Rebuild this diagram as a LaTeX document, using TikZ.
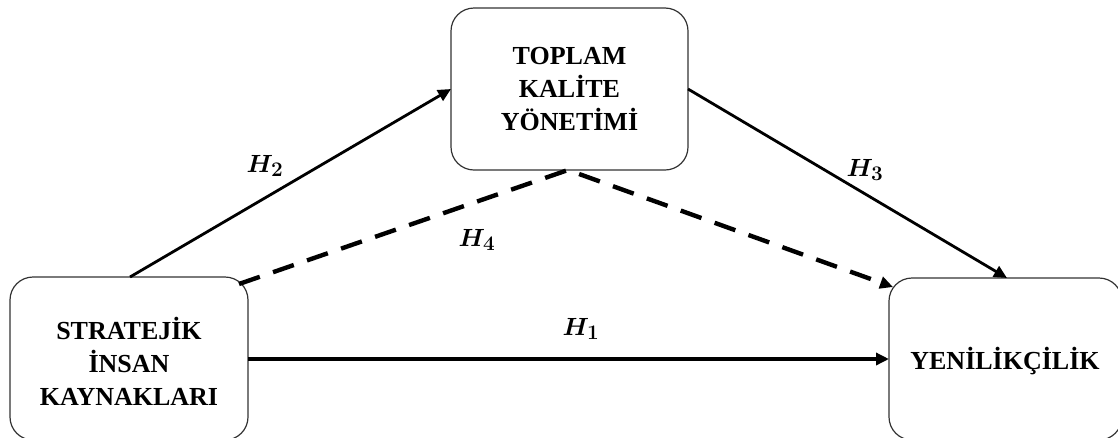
\documentclass[tikz,border=0pt]{standalone}
\usepackage{fontspec}
\setmainfont{Liberation Serif}
\usetikzlibrary{arrows.meta,calc}
\begin{document}
\begin{tikzpicture}[x=1pt,y=-1pt,
  boxstyle/.style={draw=black!80, line width=1.2pt, rounded corners=23pt},
  boxtext/.style={font=\fontsize{26}{33}\selectfont\bfseries, align=center},
  conn/.style={line width=2.8pt, -{Triangle[length=13pt,width=12pt]}},
  dconn/.style={line width=4.4pt, dash pattern=on 22pt off 14pt, -{Triangle[length=13pt,width=12pt]}},
  hlab/.style={font=\fontsize{29}{31}\selectfont\boldmath, inner sep=0pt}]
\useasboundingbox (0,0) rectangle (1118,437);
% boxes
\draw[boxstyle] (451,8) rectangle (688,170);
\draw[boxstyle] (10,277) rectangle (248,440);
\draw[boxstyle] (889,278) rectangle (1122,440);
\node[boxtext] (T) at (569.5,89) {TOPLAM\\KALİTE\\YÖNETİMİ};
\node[boxtext] (S) at (129,361) {STRATEJİK\\İNSAN\\KAYNAKLARI};
\node[boxtext] (Y) at (1005,361) {YENİLİKÇİLİK};
% anchor coordinates on box borders
\coordinate (Tw) at (451,89);
\coordinate (Te) at (688,89);
\coordinate (Ts) at (568,170);
\coordinate (Sn) at (130,277);
\coordinate (Se) at (248,359);
\coordinate (Sne) at (239,284);
\coordinate (Yn) at (1007,278);
\coordinate (Yw) at (889,359);
\coordinate (Ynw) at (893,287);
% connectors
\draw[conn] (Sn) -- (Tw);
\draw[conn] (Te) -- (Yn);
\draw[conn, line width=3.3pt] (Se) -- (Yw);
\draw[dconn] (Sne) -- (Ts) -- (Ynw);
% labels
\node[hlab] (h2) at (265,166) {$H_2$};
\node[hlab] (h3) at (865,170) {$H_3$};
\node[hlab] (h4) at (477,240) {$H_4$};
\node[hlab] (h1) at (581,329) {$H_1$};
\end{tikzpicture}
\end{document}
